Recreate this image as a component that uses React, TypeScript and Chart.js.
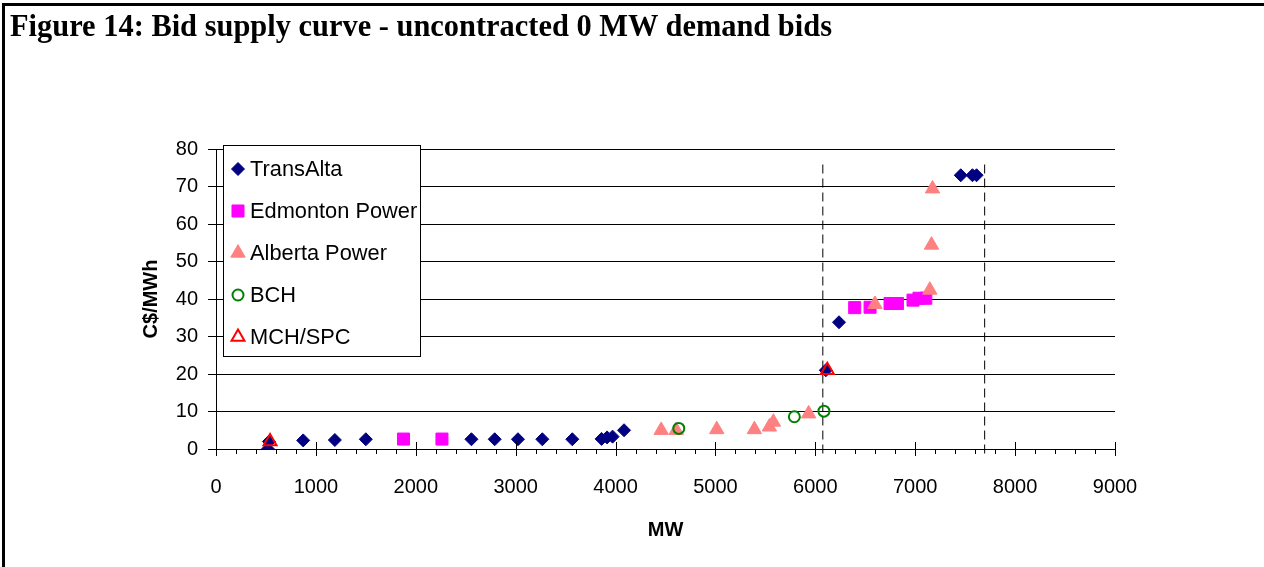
import React, { useEffect, useLayoutEffect, useRef, useState } from 'react';
import { Chart, registerables } from 'chart.js';
import { drawPoint } from 'chart.js/helpers';

Chart.register(...registerables);

const TITLE = 'Figure 14: Bid supply curve - uncontracted 0 MW demand bids';
const X_TITLE = 'MW';
const Y_TITLE = 'C$/MWh';
const SERIES_NAMES = ['TransAlta', 'Edmonton Power', 'Alberta Power', 'BCH', 'MCH/SPC'];

const transAltaMW = [520, 530, 873, 1190, 1500, 2557, 2790, 3023, 3267, 3567, 3860, 3915, 3970, 4085, 6105, 6237, 7456, 7573, 7614];
const transAltaPrice = [0, 2.0, 2.3, 2.4, 2.6, 2.6, 2.6, 2.6, 2.6, 2.6, 2.7, 3.1, 3.3, 5.0, 21.0, 33.8, 73, 73, 73];
const edmontonMW = [1877, 2262, 6394, 6548, 6748, 6822, 6978, 7038, 7106];
const edmontonPrice = [2.65, 2.65, 37.7, 37.8, 38.8, 38.8, 39.7, 40.2, 40.2];
const albertaMW = [4457, 4607, 5013, 5390, 5540, 5580, 5933, 6597, 7146, 7163, 7173];
const albertaPrice = [5.0, 5.0, 5.2, 5.2, 5.9, 7.2, 9.4, 38.6, 42.4, 54.4, 69.4];
const bchMW = [4633, 5790, 6086];
const bchPrice = [5.5, 8.6, 10.1];
const mchMW = [541, 6120];
const mchPrice = [2.0, 21.0];
const demandLevelsMW = [6075, 7695];
const demandLineSpan = [-1.2, 76];

const X_MIN = 0;
const X_MAX = 9000;
const X_STEP = 1000;
const X_MINOR_STEP = 200;
const Y_MIN = 0;
const Y_MAX = 80;
const Y_STEP = 10;

const NAVY = '#000080';
const MAGENTA = '#FF00FF';
const SALMON = '#FF8080';
const GREEN = '#008000';
const RED = '#FF0000';

const FONT = '"Liberation Sans", Arial, sans-serif';

const zip = (xs: number[], ys: number[]) => xs.map((x, i) => ({ x, y: ys[i] }));

const overlayPlugin = {
  id: 'overlay',
  afterDraw(chart: any) {
    const ctx = chart.ctx as CanvasRenderingContext2D;
    const xs = chart.scales.x;
    const ys = chart.scales.y;
    ctx.save();
    // x-axis tick marks: major ones cross the axis, minor ones outside
    ctx.strokeStyle = '#000';
    ctx.lineWidth = 1;
    const yb = Math.round(ys.getPixelForValue(Y_MIN));
    for (let v = X_MIN; v <= X_MAX; v += X_MINOR_STEP) {
      const px = Math.round(xs.getPixelForValue(v)) + 0.5;
      const major = v % X_STEP === 0;
      ctx.beginPath();
      ctx.moveTo(px, major ? yb - 7 : yb);
      ctx.lineTo(px, yb + (major ? 7 : 5));
      ctx.stroke();
    }
    // legend box
    const lx = 223.5, ly = 145.5, lw = 197, lh = 211;
    ctx.fillStyle = '#fff';
    ctx.fillRect(lx, ly, lw, lh);
    ctx.strokeStyle = '#000';
    ctx.lineWidth = 1;
    ctx.strokeRect(lx, ly, lw, lh);
    const rows = [169, 211, 253, 295, 337];
    chart.data.datasets.slice(0, SERIES_NAMES.length).forEach((ds: any, i: number) => {
      const y = rows[i];
      ctx.fillStyle = ds.backgroundColor;
      ctx.strokeStyle = ds.borderColor;
      ctx.lineWidth = ds.borderWidth;
      drawPoint(ctx, { pointStyle: ds.pointStyle, radius: ds.pointRadius, rotation: 0, borderWidth: ds.borderWidth }, 238, y);
      ctx.fillStyle = '#000';
      ctx.font = `21.8px ${FONT}`;
      ctx.textBaseline = 'middle';
      ctx.textAlign = 'left';
      ctx.fillText(ds.label, 250, y + 1);
    });
    ctx.restore();
  },
};

function TitleText() {
  const ref = useRef<HTMLSpanElement>(null);
  const [sx, setSx] = useState(1);
  useLayoutEffect(() => {
    if (ref.current) {
      const w = ref.current.getBoundingClientRect().width;
      if (w > 0) setSx(822 / w);
    }
  }, []);
  return (
    <div
      style={{
        position: 'absolute',
        left: 10,
        top: 9,
        fontFamily: '"Liberation Serif", "Times New Roman", serif',
        fontWeight: 'bold',
        fontSize: 32,
        lineHeight: '32px',
        whiteSpace: 'nowrap',
        transform: `scaleX(${sx})`,
        transformOrigin: 'left top',
        color: '#000',
      }}
    >
      <span ref={ref}>{TITLE}</span>
    </div>
  );
}

export default function App() {
  const canvasRef = useRef<HTMLCanvasElement>(null);

  useEffect(() => {
    if (!canvasRef.current) return;
    const demandSets = demandLevelsMW.map((mw) => ({
      label: 'demand',
      data: demandLineSpan.map((y) => ({ x: mw, y })),
      showLine: true,
      pointRadius: 0,
      borderColor: '#000',
      backgroundColor: '#000',
      borderWidth: 1,
      borderDash: [9, 5],
      clip: false,
      order: 10,
    }));
    const chart = new Chart(canvasRef.current, {
      type: 'scatter',
      data: {
        datasets: [
          { label: SERIES_NAMES[0], data: zip(transAltaMW, transAltaPrice), pointStyle: 'rectRot', pointRadius: 6.5, backgroundColor: NAVY, borderColor: NAVY, borderWidth: 1, order: 5 },
          { label: SERIES_NAMES[1], data: zip(edmontonMW, edmontonPrice), pointStyle: 'rect', pointRadius: 8.5, backgroundColor: MAGENTA, borderColor: MAGENTA, borderWidth: 1, order: 4 },
          { label: SERIES_NAMES[2], data: zip(albertaMW, albertaPrice), pointStyle: 'triangle', pointRadius: 8.3, backgroundColor: SALMON, borderColor: SALMON, borderWidth: 1, order: 3 },
          { label: SERIES_NAMES[3], data: zip(bchMW, bchPrice), pointStyle: 'circle', pointRadius: 5.5, backgroundColor: 'rgba(0,0,0,0)', borderColor: GREEN, borderWidth: 2, order: 2 },
          { label: SERIES_NAMES[4], data: zip(mchMW, mchPrice), pointStyle: 'triangle', pointRadius: 7.5, backgroundColor: 'rgba(0,0,0,0)', borderColor: RED, borderWidth: 2, order: 1 },
          ...demandSets,
        ] as any,
      },
      options: {
        animation: false,
        responsive: false,
        events: [],
        layout: { padding: { left: 139, right: 149, top: 149, bottom: 0 } },
        plugins: {
          legend: { display: false },
          tooltip: { enabled: false },
          title: { display: false },
        },
        elements: { point: { hoverRadius: 0 } },
        scales: {
          x: {
            type: 'linear',
            min: X_MIN,
            max: X_MAX,
            afterFit: (s: any) => { s.height = 118; },
            grid: { display: false, drawTicks: false },
            border: { display: true, color: '#000', width: 1 },
            ticks: {
              stepSize: X_STEP,
              padding: 26,
              color: '#000',
              font: { family: FONT, size: 20 },
              callback: (v: any) => String(v),
              maxRotation: 0,
            },
            title: { display: true, text: X_TITLE, color: '#000', font: { family: FONT, size: 20, weight: 'bold' }, padding: { top: 0, bottom: 25 } },
          },
          y: {
            type: 'linear',
            min: Y_MIN,
            max: Y_MAX,
            afterFit: (s: any) => { s.width = 77; },
            grid: { display: true, color: '#000', lineWidth: 1, drawTicks: true, tickLength: 8 },
            border: { display: true, color: '#000', width: 1 },
            ticks: {
              stepSize: Y_STEP,
              padding: 10,
              color: '#000',
              font: { family: FONT, size: 20 },
              callback: (v: any) => String(v),
            },
            title: { display: true, text: Y_TITLE, color: '#000', font: { family: FONT, size: 20, weight: 'bold' }, padding: { top: 0, bottom: 0 } },
          },
        },
      } as any,
      plugins: [overlayPlugin],
    });
    return () => chart.destroy();
  }, []);

  return (
    <div style={{ position: 'absolute', left: 0, top: 0, width: 1264, height: 567, background: '#fff', overflow: 'hidden' }}>
      <canvas ref={canvasRef} width={1264} height={567} style={{ position: 'absolute', left: 0, top: 0, width: 1264, height: 567 }} />
      <div style={{ position: 'absolute', left: 2, top: 3, width: 1262, height: 3, background: '#000' }} />
      <div style={{ position: 'absolute', left: 2, top: 3, width: 3, height: 564, background: '#000' }} />
      <TitleText />
    </div>
  );
}
